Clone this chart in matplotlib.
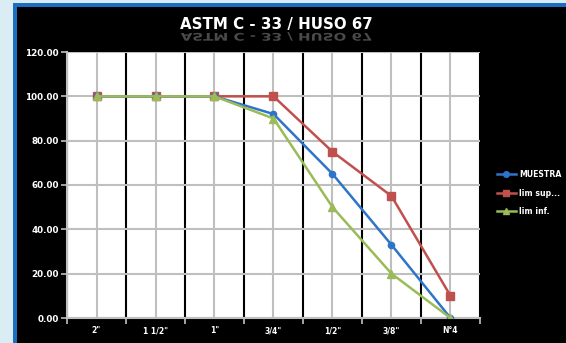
import matplotlib
matplotlib.use("Agg")
from matplotlib import pyplot as plt
from matplotlib.patches import Rectangle, PathPatch
from matplotlib.textpath import TextPath
from matplotlib.font_manager import FontProperties
from matplotlib.transforms import Affine2D
import numpy as np

# Datos de la curva granulometrica
tamices = ['2"', '1 1/2"', '1"', '3/4"', '1/2"', '3/8"', 'N°4']
muestra = [100, 100, 100, 92, 65, 33, 0]
lim_sup = [100, 100, 100, 100, 75, 55, 10]
lim_inf = [100, 100, 100, 90, 50, 20, 0]
titulo = "ASTM C - 33 / HUSO 67"

W, H = 566, 343
fig = plt.figure(figsize=(W / 100, H / 100), dpi=100)
fig.patch.set_facecolor("#daecf4")

# marco negro con borde azul
fig.patches.append(Rectangle((13 / W, 0), 1, (H - 3) / H, transform=fig.transFigure,
                             facecolor="#1a6fc0", edgecolor="none", zorder=0))
fig.patches.append(Rectangle((17 / W, 0), 1, (H - 7) / H, transform=fig.transFigure,
                             facecolor="black", edgecolor="none", zorder=0))

ax = fig.add_axes([67 / W, 1 - 318 / H, (480 - 67) / W, (318 - 52) / H])
ax.set_zorder(3)
ax.set_facecolor("white")
x = np.arange(len(tamices))

ax.plot(x, lim_sup, color="#c0504d", marker="s", markersize=5.5, linewidth=1.8, label="lim sup...", zorder=3)
ax.plot(x, muestra, color="#2e75c9", marker="o", markersize=4.5, linewidth=1.8, label="MUESTRA", zorder=4)
ax.plot(x, lim_inf, color="#9bbb59", marker="^", markersize=5.5, linewidth=1.8, label="lim inf.", zorder=5)

ax.set_xlim(-0.5, len(tamices) - 0.5)
ax.set_ylim(0, 120)
ax.set_yticks(np.arange(0, 121, 20))
ax.set_yticklabels(["%.2f" % v for v in np.arange(0, 121, 20)])
ax.set_xticks(x)
ax.set_xticklabels(tamices)
ax.set_xticks(np.arange(-0.5, len(tamices), 1), minor=True)

ax.grid(axis="y", color="#bfbfbf", linewidth=1.5)
ax.grid(axis="x", which="major", color="#bfbfbf", linewidth=1.5)
ax.grid(axis="x", which="minor", color="black", linewidth=1.5)
ax.set_axisbelow(True)

for s in ["top", "right"]:
    ax.spines[s].set_visible(False)
for s in ["left", "bottom"]:
    ax.spines[s].set_color("#bfbfbf")
    ax.spines[s].set_linewidth(1.5)

ax.tick_params(axis="x", which="major", length=0, pad=6, labelsize=5.5, labelcolor="white")
ax.tick_params(axis="x", which="minor", length=4, color="#bfbfbf", width=1.2)
ax.tick_params(axis="y", length=4, color="#bfbfbf", width=1.2, labelsize=6.3, labelcolor="white", pad=2)
for lab in ax.get_xticklabels() + ax.get_yticklabels():
    lab.set_fontweight("bold")

handles, labels = ax.get_legend_handles_labels()
order = [1, 0, 2]
leg = fig.legend([handles[i] for i in order], [labels[i] for i in order],
                 loc="center left", bbox_to_anchor=(490 / W, 1 - 193 / H),
                 frameon=False, fontsize=5.6, handlelength=2.4, labelspacing=1.2,
                 handletextpad=0.4, markerscale=0.9)
for t in leg.get_texts():
    t.set_color("white")
    t.set_fontweight("bold")

fig.text(276 / W, 1 - 24 / H, titulo, color="white", fontsize=10.8, fontweight="bold",
         ha="center", va="center")

# reflejo del titulo (en pixeles)
fp = FontProperties(family="DejaVu Sans", weight="bold")
tp = TextPath((0, 0), titulo, size=10.8 * 100 / 72, prop=fp)
bb = tp.get_extents()
tr = Affine2D().translate(-(bb.x0 + bb.width / 2), 0).scale(1, -0.7).translate(276, H - 33)
fig.patches.append(PathPatch(tr.transform_path(tp), facecolor="#4a4a4a", edgecolor="none",
                             transform=None, zorder=1))

fig.savefig("out.png", dpi=100, facecolor=fig.get_facecolor())
